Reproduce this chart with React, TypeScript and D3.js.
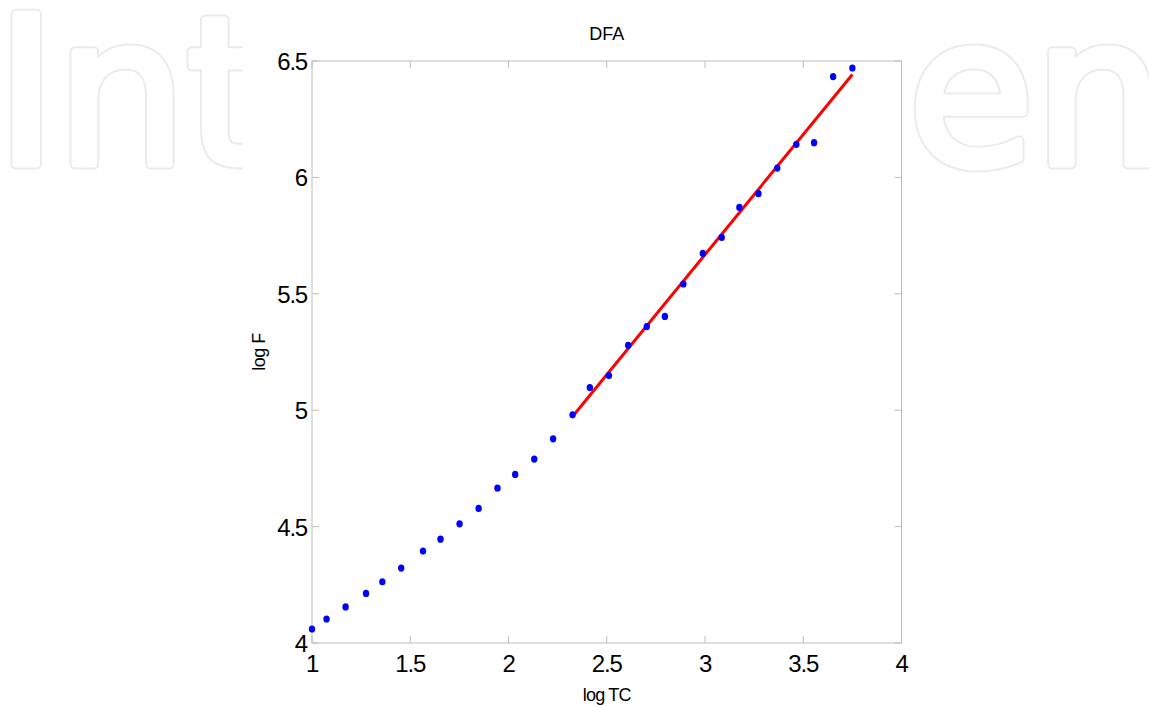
import React, { useEffect } from "react";
import * as d3 from "d3";

const logTC = [1.0, 1.074, 1.171, 1.275, 1.358, 1.454, 1.565, 1.654, 1.751, 1.848, 1.944, 2.034, 2.131, 2.227, 2.326, 2.414, 2.511, 2.609, 2.704, 2.796, 2.89, 2.989, 3.085, 3.175, 3.272, 3.368, 3.465, 3.555, 3.652, 3.75];
const logF = [4.06, 4.103, 4.155, 4.213, 4.263, 4.322, 4.395, 4.446, 4.512, 4.578, 4.665, 4.724, 4.79, 4.877, 4.98, 5.097, 5.149, 5.279, 5.359, 5.403, 5.542, 5.674, 5.742, 5.871, 5.93, 6.04, 6.142, 6.149, 6.433, 6.47];
const fitX = [2.326, 3.75];
const fitY = [4.973, 6.442];
const xTicks = [1, 1.5, 2, 2.5, 3, 3.5, 4];
const yTicks = [4, 4.5, 5, 5.5, 6, 6.5];
const title = "DFA";
const xLabel = "log TC";
const yLabel = "log F";
const watermark = ["Int", "en"];

const W = 1149;
const H = 707;
const FONT = "'Liberation Sans', Arial, sans-serif";

export default function App() {
  useEffect(() => {
    document.body.style.margin = "0";
  }, []);

  const x = d3.scaleLinear().domain([1, 4]).range([312, 901.5]);
  const y = d3.scaleLinear().domain([4, 6.5]).range([643, 61]);
  const [x0, x1] = x.range();
  const [y0, y1] = y.range();
  const tickLen = 7;
  const axisColor = "#bdbdbd";
  const fitLine = d3
    .line<number>()
    .x((d) => x(d))
    .y((_, i) => y(fitY[i]));

  const wm = (stroke: string, sw: number) => (
    <g fontFamily="'DejaVu Sans', sans-serif" fontSize={205} fill="#fff" stroke={stroke} strokeWidth={sw} strokeLinejoin="round">
      <text x={-4} y={164}>{watermark[0]}</text>
      <text x={908} y={164}>{watermark[1]}</text>
    </g>
  );

  return (
    <svg width={W} height={H} style={{ display: "block" }}>
      <rect width={W} height={H} fill="#fff" />
      {/* watermark */}
      {wm("#ebebeb", 11)}
      {wm("#ffffff", 7)}
      <rect x={243} y={0} width={912 - 243} height={H} fill="#fff" />
      {/* title */}
      <text x={(x0 + x1) / 2} y={40} textAnchor="middle" fontFamily={FONT} fontSize={18} fill="#000">{title}</text>
      {/* box */}
      <rect x={x0} y={y1} width={x1 - x0} height={y0 - y1} fill="none" stroke={axisColor} strokeWidth={1} />
      {/* x ticks */}
      {xTicks.map((t) => (
        <g key={"xt" + t}>
          <line x1={x(t)} x2={x(t)} y1={y0} y2={y0 - tickLen} stroke={axisColor} />
          <line x1={x(t)} x2={x(t)} y1={y1} y2={y1 + tickLen} stroke={axisColor} />
          <text x={x(t)} y={672} textAnchor="middle" fontFamily={FONT} fontSize={24} letterSpacing={-1.2} fill="#000">{String(t)}</text>
        </g>
      ))}
      {/* y ticks */}
      {yTicks.map((t) => (
        <g key={"yt" + t}>
          <line x1={x0} x2={x0 + tickLen} y1={y(t)} y2={y(t)} stroke={axisColor} />
          <line x1={x1} x2={x1 - tickLen} y1={y(t)} y2={y(t)} stroke={axisColor} />
          <text x={307} y={y(t) + 9} textAnchor="end" fontFamily={FONT} fontSize={24} letterSpacing={-1.2} fill="#000">{String(t)}</text>
        </g>
      ))}
      {/* axis labels */}
      <text x={(x0 + x1) / 2} y={701} textAnchor="middle" fontFamily={FONT} fontSize={18} letterSpacing={-0.8} fill="#000">{xLabel}</text>
      <text transform={`translate(265,${(y0 + y1) / 2}) rotate(-90)`} textAnchor="middle" fontFamily={FONT} fontSize={18} letterSpacing={-0.5} fill="#000">{yLabel}</text>
      {/* fit line */}
      <path d={fitLine(fitX) || ""} fill="none" stroke="#ff0000" strokeWidth={3} />
      {/* points */}
      {logTC.map((v, i) => (
        <ellipse key={"p" + i} cx={x(v)} cy={y(logF[i])} rx={3.2} ry={3.6} fill="#0000ff" />
      ))}
    </svg>
  );
}
